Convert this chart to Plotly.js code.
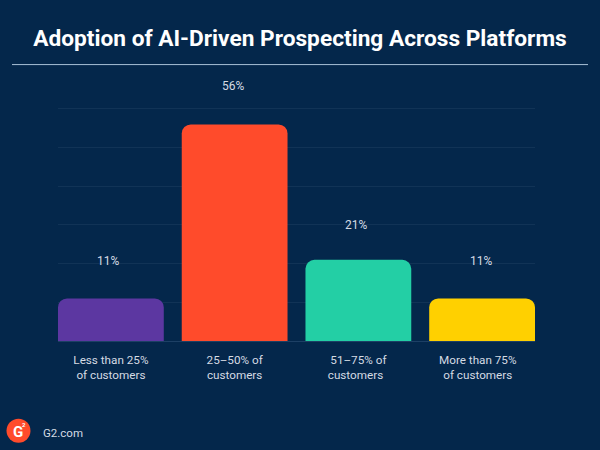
<!DOCTYPE html>
<html><head><meta charset="utf-8">
<script src="https://cdn.plot.ly/plotly-3.0.1.min.js"></script>
<style>html,body{margin:0;padding:0;background:#04274b}</style>
</head><body><div id="chart" style="width:600px;height:450px"></div>
<script>
const categories = ["Less than 25%<br>of customers","25–50% of<br>customers","51–75% of<br>customers\u00a0\u00a0","More than 75%\u00a0\u00a0\u00a0<br>of customers\u00a0\u00a0\u00a0"];
const values = [11,56,21,11];
const valueLabels = ["11%","56%","21%","11%"];
const barColors = ["#5c37a1","#ff4b2b","#23cfa5","#ffd000"];
const W=600,H=450;
const FONT='"Roboto", sans-serif';
const M={l:58,r:65,t:106.5,b:109};
const PW=W-M.l-M.r, PH=H-M.t-M.b;
const px=x=>(x-M.l)/PW, py=y=>(H-M.b-y)/PH;
const labelX=[-0.02,-0.01,-0.02,-0.01];
const labelShift=[37,38,35,37];
const annotations = values.map((v,i)=>({
  x:i+labelX[i], y:v, xref:'x', yref:'y', text:valueLabels[i], showarrow:false,
  yshift:labelShift[i], yanchor:'middle', font:{family:FONT,size:12,color:'#d5dbe3'}
}));
annotations.push({xref:'paper',yref:'paper',x:px(40.5),y:py(433),xanchor:'left',yanchor:'middle',
  text:'G2.com',showarrow:false,font:{family:FONT,size:11.5,color:'#d5dbe3'}});
annotations.push({xref:'paper',yref:'paper',x:px(17.5),y:py(432),xanchor:'center',yanchor:'middle',
  text:'<b>G</b>',showarrow:false,font:{family:FONT,size:15,color:'#ffffff'}});
annotations.push({xref:'paper',yref:'paper',x:px(24),y:py(425),xanchor:'center',yanchor:'middle',
  text:'<b>2</b>',showarrow:false,font:{family:FONT,size:6,color:'#ffffff'}});
Plotly.newPlot('chart',[{
  type:'bar',x:categories,y:values,
  marker:{color:barColors,line:{width:0}},
  hoverinfo:'skip'
}],{
  width:W,height:H,
  paper_bgcolor:'#04274b',plot_bgcolor:'#04274b',
  margin:{l:M.l,r:M.r,t:M.t,b:M.b,pad:0},
  showlegend:false,bargap:0.145,barcornerradius:9,
  title:{text:'<b>Adoption of AI-Driven Prospecting Across Platforms</b>',x:0.5,xref:'container',xanchor:'center',
    y:1-38/450,yref:'container',yanchor:'middle',font:{family:FONT,size:22.7,color:'#ffffff'}},
  xaxis:{type:'category',range:[-0.4275,3.4275],showgrid:false,zeroline:false,showline:false,ticks:'',
    tickfont:{family:FONT,size:11.7,color:'#d5dbe3'},ticklabelstandoff:10,automargin:false},
  yaxis:{range:[0,60.5],tickvals:[10,20,30,40,50,60],showticklabels:false,ticks:'',gridcolor:'#113356',gridwidth:1,
    zeroline:true,zerolinecolor:'#1d4065',zerolinewidth:1,showline:false,automargin:false},
  annotations:annotations,
  shapes:[
    {type:'line',xref:'paper',yref:'paper',x0:px(12),x1:px(588),y0:py(64),y1:py(64),
      line:{color:'#a9c0d6',width:1}},
    {type:'circle',xref:'paper',yref:'paper',x0:px(6.5),x1:px(30.5),y0:py(443),y1:py(419),
      fillcolor:'#ff4b2b',line:{width:0},layer:'below'}
  ]
},{staticPlot:true,displayModeBar:false});
</script></body></html>
